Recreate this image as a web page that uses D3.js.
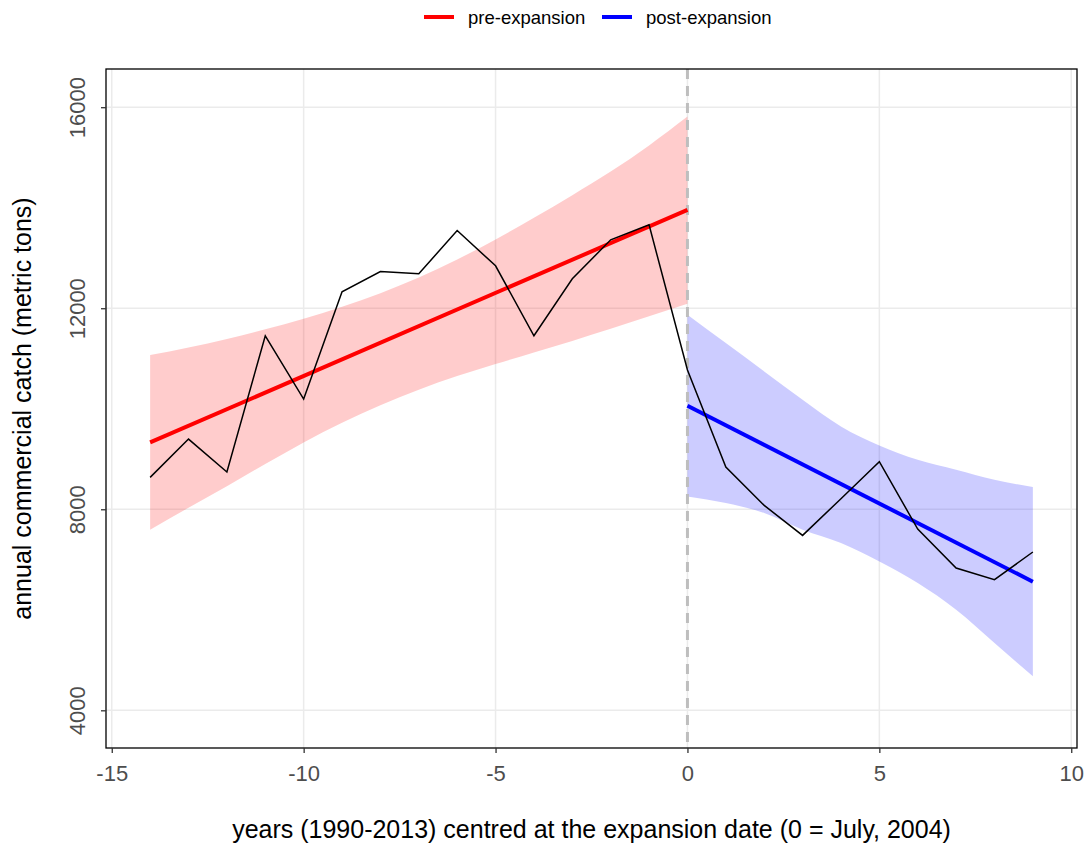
<!DOCTYPE html>
<html>
<head>
<meta charset="utf-8">
<script src="https://cdn.jsdelivr.net/npm/d3@7"></script>
<style>
  html, body { margin: 0; padding: 0; background: #fff; }
  svg { display: block; font-family: "Liberation Sans", Arial, Helvetica, sans-serif; }
</style>
</head>
<body>
<svg id="chart" width="1086" height="844"></svg>
<script>
// ---- data ----
const years = [-14,-13,-12,-11,-10,-9,-8,-7,-6,-5,-4,-3,-2,-1,0,1,2,3,4,5,6,7,8,9];
const catchTons = [8634,9397,8741,11452,10193,12327,12730,12685,13546,12844,11452,12585,13361,13659,10770,8840,8077,7480,8210,8946,7607,6832,6599,7150];

const preFitX = [-14, 0];
const preFitY = [9330, 13957];
const postFitX = [0, 9];
const postFitY = [10059, 6559];

const preBandX = [-14,-13,-12,-11,-10,-9,-8,-7,-6,-5,-4,-3,-2,-1,0];
const preBandUpper = [11068,11220,11390,11580,11790,12030,12300,12610,12970,13370,13800,14250,14720,15240,15813];
const preBandLower = [7593,8030,8460,8900,9330,9720,10070,10380,10650,10890,11120,11350,11590,11840,12088];

const postBandX = [0,1,2,3,4,5,6,7,8,9];
const postBandUpper = [11869,11306,10742,10179,9648,9270,8985,8787,8588,8442];
const postBandLower = [8256,8124,7925,7593,7329,6963,6533,6002,5340,4676];

const xTicks = [-15,-10,-5,0,5,10];
const yTicks = [4000,8000,12000,16000];
const legendLabels = ["pre-expansion", "post-expansion"];
const legendColors = ["#ff0000", "#0000ff"];

// ---- layout ----
const svg = d3.select("#chart");
const panel = {left: 106, right: 1077, top: 69, bottom: 748};

const x = d3.scaleLinear().domain([-15.15, 10.15]).range([panel.left, panel.right]);
const y = d3.scaleLinear().domain([3250, 16760]).range([panel.bottom, panel.top]);

// grid
const grid = svg.append("g");
grid.selectAll("line.gx").data(xTicks).join("line")
  .attr("x1", d => x(d)).attr("x2", d => x(d))
  .attr("y1", panel.top).attr("y2", panel.bottom)
  .attr("stroke", "#ebebeb").attr("stroke-width", 1.5);
grid.selectAll("line.gy").data(yTicks).join("line")
  .attr("x1", panel.left).attr("x2", panel.right)
  .attr("y1", d => y(d)).attr("y2", d => y(d))
  .attr("stroke", "#ebebeb").attr("stroke-width", 1.5);

// ribbons
const preBand = preBandX.map((v, i) => ({x: v, lo: preBandLower[i], hi: preBandUpper[i]}));
const postBand = postBandX.map((v, i) => ({x: v, lo: postBandLower[i], hi: postBandUpper[i]}));
const area = d3.area().x(d => x(d.x)).y0(d => y(d.lo)).y1(d => y(d.hi)).curve(d3.curveMonotoneX);
svg.append("path").datum(preBand).attr("d", area).attr("fill", "#ff0000").attr("fill-opacity", 0.2);
svg.append("path").datum(postBand).attr("d", area).attr("fill", "#0000ff").attr("fill-opacity", 0.2);

// dashed vertical line at 0
svg.append("line")
  .attr("x1", x(0)).attr("x2", x(0)).attr("y1", panel.top).attr("y2", panel.bottom)
  .attr("stroke", "#bebebe").attr("stroke-width", 3).attr("stroke-dasharray", "10,7");

// fit lines
const lineGen = d3.line().x(d => x(d[0])).y(d => y(d[1]));
svg.append("path").datum(preFitX.map((v, i) => [v, preFitY[i]]))
  .attr("d", lineGen).attr("fill", "none").attr("stroke", "#ff0000").attr("stroke-width", 4);
svg.append("path").datum(postFitX.map((v, i) => [v, postFitY[i]]))
  .attr("d", lineGen).attr("fill", "none").attr("stroke", "#0000ff").attr("stroke-width", 4);

// observed catch
svg.append("path").datum(years.map((v, i) => [v, catchTons[i]]))
  .attr("d", lineGen).attr("fill", "none").attr("stroke", "#000").attr("stroke-width", 1.5)
  .attr("stroke-linejoin", "miter");

// panel border
svg.append("rect")
  .attr("x", panel.left).attr("y", panel.top)
  .attr("width", panel.right - panel.left).attr("height", panel.bottom - panel.top)
  .attr("fill", "none").attr("stroke", "#000").attr("stroke-width", 1.3);

// axes
const xAxis = svg.append("g").attr("transform", `translate(0,${panel.bottom})`)
  .call(d3.axisBottom(x).tickValues(xTicks).tickSize(5).tickPadding(12)
    .tickFormat(d => d < 0 ? "-" + Math.abs(d) : String(d)));
xAxis.select(".domain").remove();
xAxis.selectAll(".tick line").attr("stroke", "#333").attr("stroke-width", 1.3);
xAxis.selectAll(".tick text").attr("fill", "#4d4d4d").attr("font-size", 22)
  .attr("font-family", "Liberation Sans, Arial, sans-serif");

const yAxis = svg.append("g").attr("transform", `translate(${panel.left},0)`)
  .call(d3.axisLeft(y).tickValues(yTicks).tickSize(5).tickFormat(d3.format("d")));
yAxis.select(".domain").remove();
yAxis.selectAll(".tick line").attr("stroke", "#333").attr("stroke-width", 1.3);
yAxis.selectAll(".tick text")
  .attr("fill", "#4d4d4d").attr("font-size", 22)
  .attr("font-family", "Liberation Sans, Arial, sans-serif")
  .attr("x", 0).attr("dy", 0)
  .attr("text-anchor", "middle")
  .attr("transform", "translate(-21,0) rotate(-90)");

// axis titles
svg.append("text").attr("x", (panel.left + panel.right) / 2).attr("y", 838)
  .attr("text-anchor", "middle").attr("font-size", 25).attr("fill", "#000")
  .text("years (1990-2013) centred at the expansion date (0 = July, 2004)");
svg.append("text")
  .attr("transform", `translate(31,${(panel.top + panel.bottom) / 2}) rotate(-90)`)
  .attr("text-anchor", "middle").attr("font-size", 25).attr("fill", "#000")
  .text("annual commercial catch (metric tons)");

// legend
const legend = svg.append("g");
const legendX = [424, 602];
legendLabels.forEach((lab, i) => {
  legend.append("line").attr("x1", legendX[i]).attr("x2", legendX[i] + 30)
    .attr("y1", 17).attr("y2", 17).attr("stroke", legendColors[i]).attr("stroke-width", 4);
  legend.append("text").attr("x", legendX[i] + 44).attr("y", 23.5)
    .attr("font-size", 18.5).attr("fill", "#000").text(lab);
});
</script>
</body>
</html>
